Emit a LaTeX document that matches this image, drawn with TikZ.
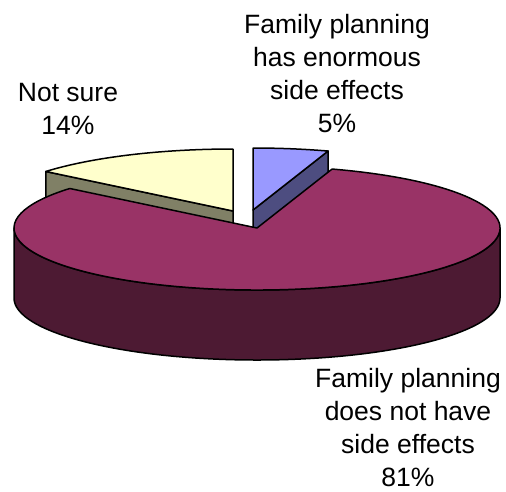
\documentclass[tikz,border=0pt]{standalone}
\usepackage{fontspec}
\setmainfont{Liberation Sans}
\usetikzlibrary{calc}
\definecolor{plum}{HTML}{993366}
\definecolor{darkplum}{HTML}{4D1A33}
\definecolor{lavender}{HTML}{9999FF}
\definecolor{darklavender}{HTML}{4D4D80}
\definecolor{cream}{HTML}{FFFFCC}
\definecolor{khaki}{HTML}{808066}

\begin{document}
\begin{tikzpicture}[x=1pt, y=1pt,
    slice/.style={draw=black, line width=1.5pt, line join=round},
    rim/.style={x radius=243pt, y radius=62pt},
    pietext/.style={align=center, inner sep=0pt, anchor=north, font=\fontsize{26.5}{33}\selectfont}
]
\useasboundingbox (0,0) rectangle (506,-491);

\coordinate (main) at (257,-228);
\coordinate (enorm) at (253,-210);
\coordinate (unsure) at (233,-211);

% not sure, pulled out
\draw[slice, fill=khaki] (unsure) -- ($(unsure)+(140.4:243pt and 62pt)$) -- ++(0,-70) -- ($(unsure)+(0,-70)$) -- cycle;
\draw[slice, fill=cream] (unsure) -- ($(unsure)+(90:243pt and 62pt)$)
    arc[rim, start angle=90, end angle=140.4] -- cycle;

% enormous side effects, pulled out
\draw[slice, fill=darklavender] (enorm) -- ($(enorm)+(72:243pt and 62pt)$) -- ++(0,-70) -- ($(enorm)+(0,-70)$) -- cycle;
\draw[slice, fill=lavender] (enorm) -- ($(enorm)+(72:243pt and 62pt)$)
    arc[rim, start angle=72, end angle=90] -- cycle;

% no side effects
\draw[slice, fill=darkplum] ($(main)+(180:243pt and 62pt)$)
    arc[rim, start angle=180, end angle=360] -- ++(0,-70)
    arc[rim, start angle=360, end angle=180] -- cycle;
\draw[slice, fill=plum] (main) -- ($(main)+(72:243pt and 62pt)$)
    arc[rim, start angle=72, end angle=-219.6] -- cycle;

\node[pietext] (enormtext) at (337,-14) {Family planning\\has enormous\\side effects\\5\%};
\node[pietext] (unsuretext) at (68,-83) {Not sure\\14\%};
\node[pietext] (maintext) at (408,-368) {Family planning\\does not have\\side effects\\81\%};
\end{tikzpicture}
\end{document}
